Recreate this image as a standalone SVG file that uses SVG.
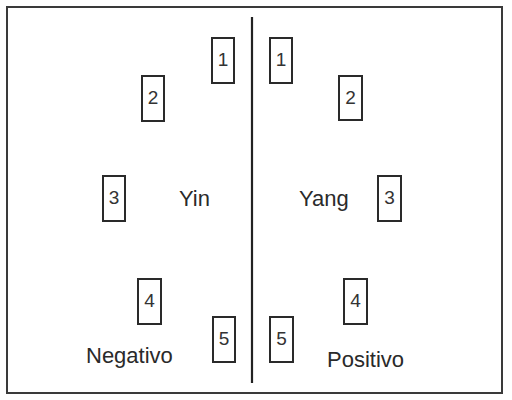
<svg xmlns="http://www.w3.org/2000/svg" width="512" height="400" viewBox="0 0 512 400">
<style>
.box{fill:#fff;stroke:#2a2a2a;stroke-width:2}
.num{font-family:"Liberation Sans",Arial,sans-serif;font-size:19px;fill:#333;text-anchor:middle}
.lbl{font-family:"Liberation Sans",Arial,sans-serif;font-size:22px;fill:#2a2a2a}
</style>
<rect width="512" height="400" fill="#fff"/>
<rect x="7" y="7" width="495" height="386" fill="none" stroke="#3a3a3a" stroke-width="2"/>
<g id="connectors">
<line x1="252" y1="17" x2="252" y2="383" stroke="#222" stroke-width="2.2"/>
</g>
<g id="L1"><rect class="box" x="212" y="38" width="22" height="45"/><text class="num" x="223" y="66">1</text></g>
<g id="L2"><rect class="box" x="142" y="76" width="22" height="45"/><text class="num" x="153" y="104">2</text></g>
<g id="L3"><rect class="box" x="103" y="176" width="22" height="45"/><text class="num" x="114" y="204">3</text></g>
<g id="L4"><rect class="box" x="138" y="279" width="23" height="45"/><text class="num" x="149.5" y="307">4</text></g>
<g id="L5"><rect class="box" x="213" y="317" width="22" height="45"/><text class="num" x="224" y="345">5</text></g>
<g id="R1"><rect class="box" x="270" y="38" width="22" height="45"/><text class="num" x="281" y="66">1</text></g>
<g id="R2"><rect class="box" x="339" y="76" width="23" height="44"/><text class="num" x="350.5" y="104">2</text></g>
<g id="R3"><rect class="box" x="378" y="176" width="23" height="45"/><text class="num" x="389.5" y="204">3</text></g>
<g id="R4"><rect class="box" x="344" y="279" width="23" height="45"/><text class="num" x="355.5" y="307">4</text></g>
<g id="R5"><rect class="box" x="270" y="317" width="23" height="45"/><text class="num" x="281.5" y="345">5</text></g>
<g id="yin"><text class="lbl" x="179" y="206">Yin</text></g>
<g id="yang"><text class="lbl" x="299" y="206">Yang</text></g>
<g id="negativo"><text class="lbl" x="86" y="363">Negativo</text></g>
<g id="positivo"><text class="lbl" x="327" y="367">Positivo</text></g>
</svg>
